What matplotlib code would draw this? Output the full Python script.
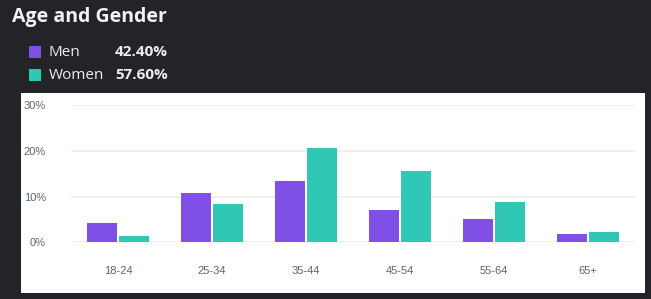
import matplotlib
matplotlib.use("Agg")
import matplotlib.pyplot as plt
from matplotlib.patches import Rectangle
import numpy as np

categories = ["18-24", "25-34", "35-44", "45-54", "55-64", "65+"]
men = [4.15, 10.7, 13.45, 7.05, 5.1, 1.8]
women = [1.45, 8.4, 20.5, 15.6, 8.8, 2.25]
legend_labels = ["Men", "Women"]
legend_values = ["42.40%", "57.60%"]
yticks = [0, 10, 20, 30]

W, H = 651, 299
fig = plt.figure(figsize=(W/100, H/100), dpi=100)
fig.patch.set_facecolor("#232427")

# white panel
fig.patches.append(Rectangle((21/W, 1-293/H), (645-21)/W, (293-93)/H,
                             transform=fig.transFigure, facecolor="white",
                             edgecolor="none", zorder=-5))

ax = fig.add_axes([71/W, 1-242.3/H, (635-71)/W, (242.3-105)/H])
ax.set_zorder(2)
ax.patch.set_alpha(0)

x = np.arange(len(categories))
bw = 0.32
c_men = "#804fe6"
c_women = "#30c8b5"
ax.bar(x - 0.17, men, width=bw, color=c_men, zorder=3)
ax.bar(x + 0.17, women, width=bw, color=c_women, zorder=3)

ax.set_xlim(-0.5, len(categories) - 0.5)
ax.set_ylim(0, 30)
ax.set_yticks(yticks)
ax.set_yticklabels([f"{v}%" for v in yticks])
ax.set_xticks(x)
ax.set_xticklabels(categories)
ax.grid(axis="y", color="#eeeeee", linewidth=1.3, zorder=0)
ax.set_axisbelow(True)
for s in ax.spines.values():
    s.set_visible(False)
ax.tick_params(axis="both", length=0, colors="#5b6472", labelsize=8)
ax.tick_params(axis="y", pad=18)
ax.tick_params(axis="x", pad=17)
for lbl in ax.get_xticklabels() + ax.get_yticklabels():
    lbl.set_family("Liberation Sans")

fig.text(12/W, 1-17/H, "Age and Gender", color="#f2f2f2", fontsize=14,
         fontweight="bold", family="Open Sans", va="center", ha="left")

ys = [52, 75]
cols = [c_men, c_women]
for lab, val, y, c in zip(legend_labels, legend_values, ys, cols):
    fig.patches.append(Rectangle((29/W, 1-(y+6)/H), 12/W, 12/H,
                                 transform=fig.transFigure, facecolor=c,
                                 edgecolor="none"))
    fig.text(49/W, 1-y/H, lab, color="#eeeeee", fontsize=11,
             family="Open Sans", va="center", ha="left")
    fig.text(168/W, 1-y/H, val, color="#eeeeee", fontsize=11,
             fontweight="bold", family="Open Sans", va="center", ha="right")

fig.savefig("out.png", dpi=100, facecolor=fig.get_facecolor())
